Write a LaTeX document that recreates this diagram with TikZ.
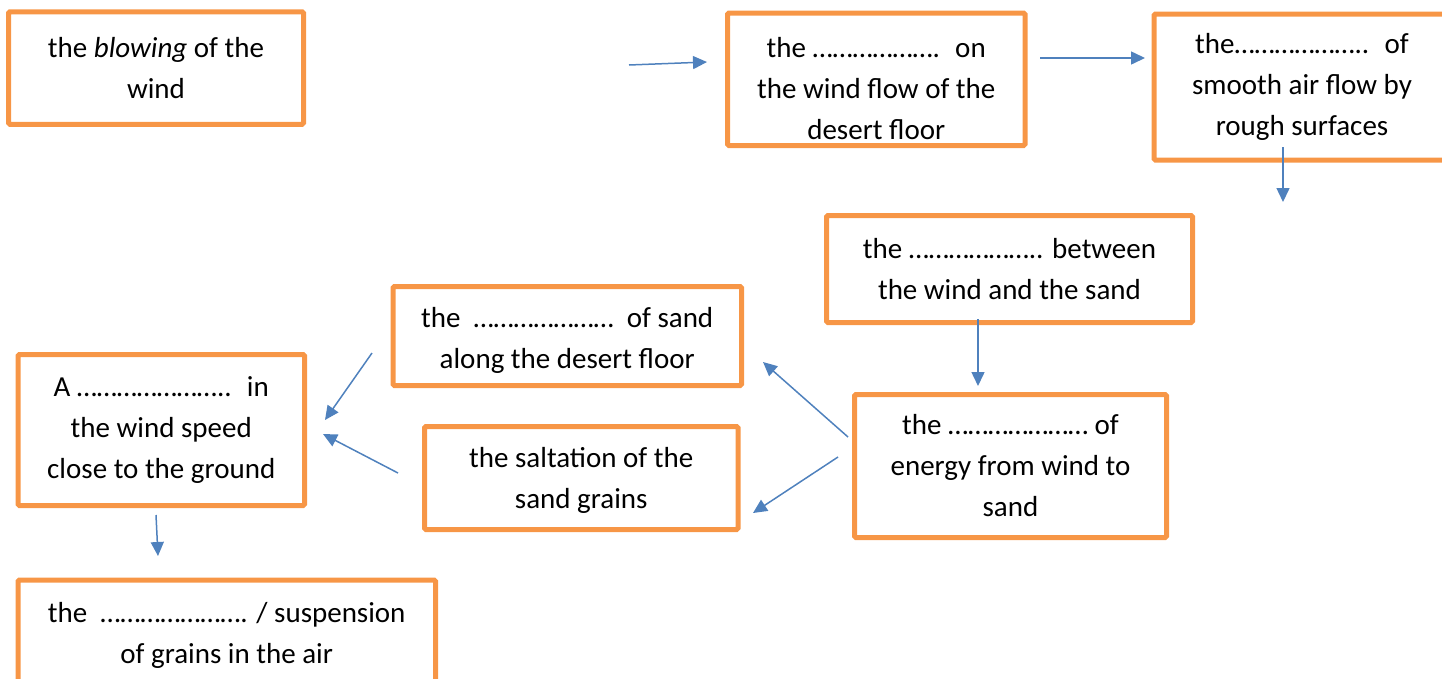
\documentclass[tikz,border=0pt]{standalone}
\usepackage{fontspec}
\setmainfont{Carlito}
\usepackage{xcolor}
\definecolor{boxorange}{HTML}{F79646}
\definecolor{arrblue}{HTML}{4F81BD}
\usepackage{tikz}
\usetikzlibrary{arrows.meta,positioning}
% invisible strut to push a box's text down
\newcommand{\topgap}[1]{\rule{0pt}{#1}}

\begin{document}
\begin{tikzpicture}[
  x=1pt, y=-1pt,
  box/.style={draw=boxorange, line width=5pt, rounded corners=1.5pt,
              inner sep=0pt, align=center,
              font=\fontsize{29}{41}\selectfont},
  arr/.style={draw=arrblue, line width=1.5pt,
              -{Triangle[length=14pt,width=13pt]}}
]
  \useasboundingbox (0,0) rectangle (1442,678);
  \clip (0,0) rectangle (1442,678);

  % boxes
  \node[box, minimum width=295pt, minimum height=112.5pt] (blow) at (156,68)
    {the \textit{blowing} of the\\wind};
  \node[box, minimum width=297.5pt, minimum height=132.5pt] (effect) at (876.25,79.25)
    {\topgap{39pt}the ………………. \ on\\the wind flow of the\\desert floor};
  \node[box, minimum width=296pt, minimum height=146pt] (drag) at (1302,87)
    {the……………….. \ of\\smooth air flow by\\rough surfaces};
  \node[box, minimum width=366pt, minimum height=107pt] (friction) at (1009.5,269)
    {the ……………….. between\\the wind and the sand};
  \node[box, minimum width=312pt, minimum height=143pt] (transfer) at (1010.5,466)
    {the ………………… of\\energy from wind to\\sand};
  \node[box, minimum width=348.5pt, minimum height=99pt] (move) at (567.25,336)
    {\topgap{29pt}the \ ………………… \ of sand\\along the desert floor};
  \node[box, minimum width=313.5pt, minimum height=103pt] (salt) at (581.25,478)
    {\topgap{25pt}the saltation of the\\sand grains};
  \node[box, minimum width=286.5pt, minimum height=151pt] (speed) at (161.25,430)
    {A ………………….. \ in\\the wind speed\\close to the ground};
  \node[box, minimum width=417.5pt, minimum height=106pt] (lift) at (226.75,633)
    {\topgap{25pt}the \ …………………. / suspension\\of grains in the air};

  % arrow ends
  \coordinate (a1s) at (629,65);   \coordinate (a1e) at (707,62);
  \coordinate (a2s) at (1040,58);  \coordinate (a2e) at (1145,58);
  \coordinate (a3s) at (1283,147); \coordinate (a3e) at (1283,202);
  \coordinate (a4s) at (978,319);  \coordinate (a4e) at (978,386);
  \coordinate (a5s) at (848,437);  \coordinate (a5e) at (763,362);
  \coordinate (a6s) at (838,457);  \coordinate (a6e) at (753,513);
  \coordinate (a7s) at (372,353);  \coordinate (a7e) at (325,420);
  \coordinate (a8s) at (398,473);  \coordinate (a8e) at (323,434);
  \coordinate (a9s) at (156,515);  \coordinate (a9e) at (158,556);

  \draw[arr] (a1s) -- (a1e);
  \draw[arr] (a2s) -- (a2e);
  \draw[arr] (a3s) -- (a3e);
  \draw[arr] (a4s) -- (a4e);
  \draw[arr] (a5s) -- (a5e);
  \draw[arr] (a6s) -- (a6e);
  \draw[arr] (a7s) -- (a7e);
  \draw[arr] (a8s) -- (a8e);
  \draw[arr] (a9s) -- (a9e);
\end{tikzpicture}
\end{document}
